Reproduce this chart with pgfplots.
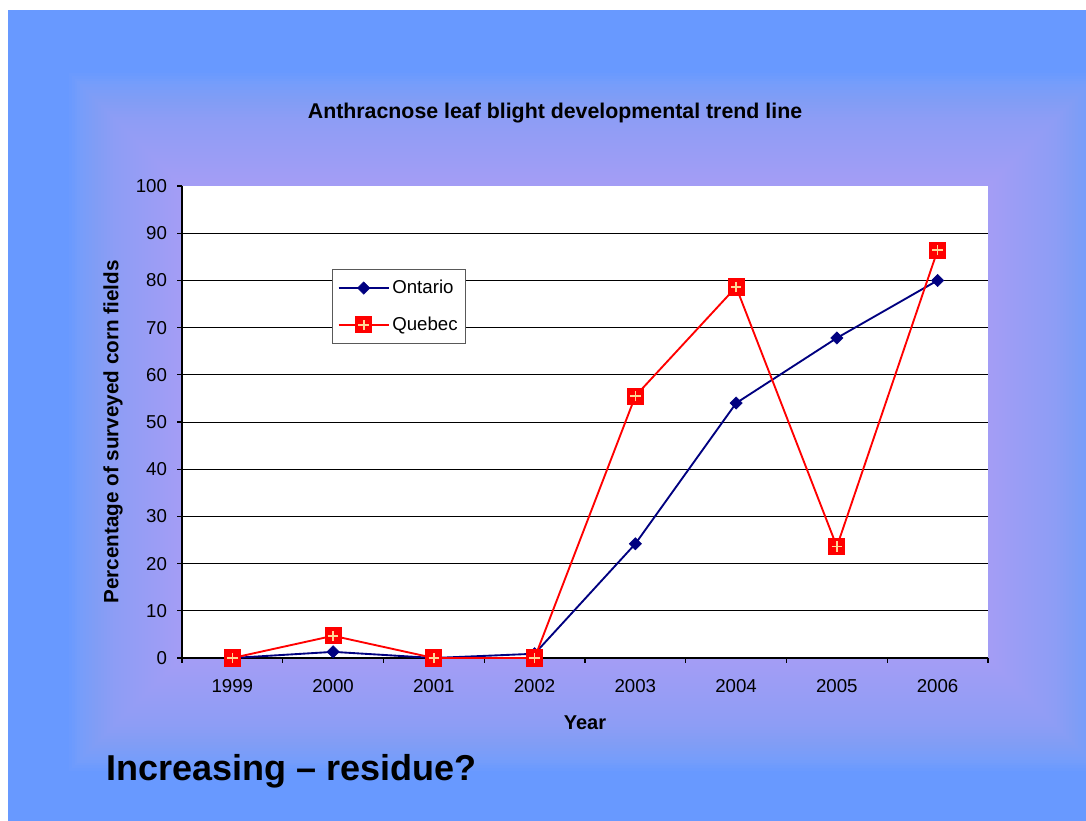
\documentclass[border=0pt]{standalone}
\usepackage{fontspec}
\setmainfont{Liberation Sans}
\usepackage{pgfplots}
\pgfplotsset{compat=1.18}
\definecolor{bgblue}{RGB}{104,153,255}
\definecolor{glow}{RGB}{186,180,245}
\definecolor{navy}{RGB}{0,0,128}
\definecolor{plusc}{RGB}{255,216,150}

\pgfdeclareplotmark{sqplus}{%
 \pgfpathrectangle{\pgfqpoint{-\pgfplotmarksize}{-\pgfplotmarksize}}{\pgfqpoint{2\pgfplotmarksize}{2\pgfplotmarksize}}%
 \pgfsetfillcolor{red}\pgfusepathqfill
 \pgfsetstrokecolor{plusc}\pgfsetlinewidth{1.3pt}%
 \pgfpathmoveto{\pgfqpoint{-0.62\pgfplotmarksize}{0pt}}\pgfpathlineto{\pgfqpoint{0.62\pgfplotmarksize}{0pt}}%
 \pgfpathmoveto{\pgfqpoint{0pt}{-0.62\pgfplotmarksize}}\pgfpathlineto{\pgfqpoint{0pt}{0.62\pgfplotmarksize}}%
 \pgfusepathqstroke}
\pgfdeclareplotmark{dia}{%
 \pgfpathmoveto{\pgfqpoint{0pt}{\pgfplotmarksize}}%
 \pgfpathlineto{\pgfqpoint{\pgfplotmarksize}{0pt}}%
 \pgfpathlineto{\pgfqpoint{0pt}{-\pgfplotmarksize}}%
 \pgfpathlineto{\pgfqpoint{-\pgfplotmarksize}{0pt}}%
 \pgfpathclose
 \pgfusepathqfillstroke}

\begin{document}
\begin{tikzpicture}
\useasboundingbox (0,0) rectangle (814.5pt,615.75pt);
\begin{scope}
\clip (0,0) rectangle (814.5pt,615.75pt);
\fill[white] (0,0) rectangle (814.5pt,615.75pt);
\fill[bgblue] (6pt,0) rectangle (814.5pt,608.25pt);
\foreach \i in {1,...,40}{
  \fill[glow, fill opacity=0.045] (139.5pt-2.2*\i pt,125.25pt-2.2*\i pt) rectangle (738pt+2.2*\i pt,473.25pt+2.2*\i pt);
}
\end{scope}
\begin{axis}[
  at={(136.5pt,122.25pt)}, anchor=south west,
  scale only axis, width=604.5pt, height=354pt,
  xmin=-0.5, xmax=7.5, ymin=0, ymax=100,
  axis background/.style={fill=white},
  axis x line=bottom, axis y line=left,
  axis line style={black, line width=0.8pt, -},
  xtick={0,...,7},
  xticklabels={1999,2000,2001,2002,2003,2004,2005,2006},
  minor xtick={-0.5,0.5,...,7.5},
  major x tick style={draw=none},
  ytick={0,10,...,90},
  extra y ticks={100}, extra y tick style={grid=none},
  tick align=outside,
  major tick length=3.75pt, minor tick length=3.75pt,
  tick style={black, line width=0.8pt},
  ymajorgrids, major grid style={black, line width=0.7pt},
  tick label style={font=\fontsize{14}{16}\selectfont, text=black},
  /pgf/number format/assume math mode=true,
  yticklabel style={xshift=-4pt},
  xticklabel style={yshift=-9pt},
  clip=false,
  legend style={at={(0.186,0.824)}, anchor=north west, draw=gray!70!black, fill=white,
    font=\fontsize{14}{16}\selectfont, inner xsep=4pt, inner ysep=6pt, row sep=12pt,
    line width=0.8pt},
  legend cell align=left,
  legend image code/.code={\draw[mark repeat=2,mark phase=2,#1] plot coordinates {(0pt,0pt) (18.75pt,0pt) (37.5pt,0pt)};},
]
\addplot[navy, line width=1.4pt, mark=dia, mark size=4.6pt, mark options={fill=navy, draw=navy, line width=0.4pt}]
  coordinates {(0,0) (1,1.3) (2,0) (3,0.9) (4,24.2) (5,54.0) (6,67.8) (7,80.0)};
\addlegendentry{Ontario}
\addplot[red, line width=1.4pt, mark=sqplus, mark size=6.4pt]
  coordinates {(0,0) (1,4.7) (2,0) (3,0) (4,55.5) (5,78.6) (6,23.6) (7,86.4)};
\addlegendentry{Quebec}
\end{axis}
\node[font=\bfseries\fontsize{16}{18}\selectfont] at (416.25pt,531pt) {Anthracnose leaf blight developmental trend line};
\node[font=\bfseries\fontsize{15}{17}\selectfont] at (438.75pt,73.5pt) {Year};
\node[font=\bfseries\fontsize{15.5}{17}\selectfont, rotate=90] at (84.75pt,291.75pt) {Percentage of surveyed corn fields};
\node[font=\bfseries\fontsize{27}{32}\selectfont, anchor=base west, inner sep=0pt] at (79.5pt,30pt) {Increasing – residue?};
\end{tikzpicture}
\end{document}
